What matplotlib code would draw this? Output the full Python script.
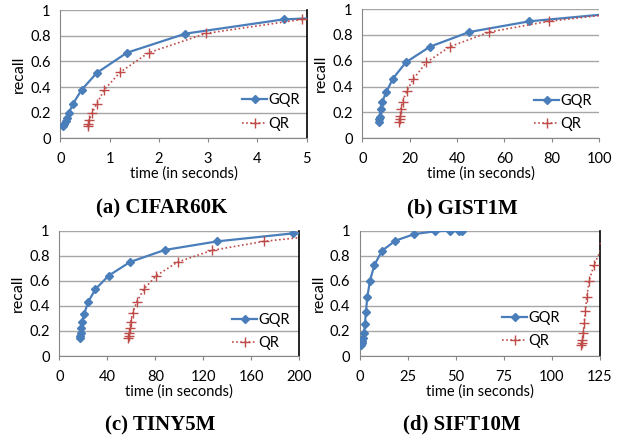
import matplotlib
matplotlib.use("Agg")
import matplotlib.pyplot as plt

# ---- data ----
a_gqr_t = [0.06, 0.08, 0.115, 0.135, 0.17, 0.26, 0.43, 0.74, 1.35, 2.54, 4.53, 5.6]
a_gqr_r = [0.096, 0.11, 0.135, 0.156, 0.195, 0.27, 0.377, 0.51, 0.667, 0.816, 0.927, 0.945]
a_qr_t = [0.555, 0.57, 0.59, 0.64, 0.74, 0.89, 1.21, 1.79, 2.96, 4.9, 6.0]
a_qr_r = [0.096, 0.11, 0.143, 0.195, 0.27, 0.377, 0.514, 0.667, 0.818, 0.927, 0.945]

b_gqr_t = [7.0, 7.2, 7.3, 7.7, 8.3, 10.1, 12.9, 18.4, 28.6, 45.1, 70.5, 110]
b_gqr_r = [0.129, 0.147, 0.168, 0.224, 0.278, 0.356, 0.461, 0.588, 0.709, 0.822, 0.905, 0.972]
b_qr_t = [15.6, 15.8, 16.0, 16.3, 17.0, 18.8, 21.5, 27.1, 37.0, 53.6, 78.6, 110]
b_qr_r = [0.129, 0.15, 0.175, 0.224, 0.283, 0.366, 0.459, 0.588, 0.709, 0.822, 0.905, 0.97]

c_gqr_t = [17.2, 17.5, 17.8, 18.1, 18.9, 20.6, 24.2, 30.0, 41.1, 58.9, 87.8, 131.7, 195.0, 230]
c_gqr_r = [0.141, 0.16, 0.186, 0.22, 0.274, 0.335, 0.434, 0.532, 0.641, 0.75, 0.846, 0.915, 0.979, 0.99]
c_qr_t = [57.5, 57.8, 58.3, 58.9, 59.4, 61.1, 64.4, 70.6, 80.8, 98.6, 127.2, 170.6, 220]
c_qr_r = [0.141, 0.16, 0.186, 0.22, 0.274, 0.34, 0.43, 0.535, 0.641, 0.75, 0.843, 0.915, 0.965]

d_gqr_t = [0.5, 0.9, 1.2, 1.6, 2.1, 2.6, 3.1, 3.8, 5.2, 7.5, 11.5, 18.4, 28.3, 39.1, 47.0, 51.6, 53.1]
d_gqr_r = [0.088, 0.1, 0.12, 0.146, 0.186, 0.255, 0.354, 0.468, 0.601, 0.726, 0.84, 0.92, 0.973, 0.995, 1.0, 1.0, 1.0]
d_qr_t = [114.9, 115.5, 115.9, 116.3, 116.8, 117.4, 118.1, 119.4, 121.9, 127]
d_qr_r = [0.088, 0.1, 0.13, 0.186, 0.26, 0.359, 0.468, 0.601, 0.726, 0.9]

panels = [
    dict(gt=a_gqr_t, gr=a_gqr_r, qt=a_qr_t, qr=a_qr_r, xlim=(0, 5), xticks=[0, 1, 2, 3, 4, 5],
         pos=[0.0976, 0.6842, 0.3987, 0.2929], caption="(a) CIFAR60K", cap=(162, 208),
         rspine=True, leg=(0.997, 0.205)),
    dict(gt=b_gqr_t, gr=b_gqr_r, qt=b_qr_t, qr=b_qr_r, xlim=(0, 100), xticks=[0, 20, 40, 60, 80, 100],
         pos=[0.5862, 0.6842, 0.3835, 0.2952], caption="(b) GIST1M", cap=(462, 208),
         rspine=False, leg=(0.994, 0.20)),
    dict(gt=c_gqr_t, gr=c_gqr_r, qt=c_qr_t, qr=c_qr_r, xlim=(0, 200), xticks=[0, 40, 80, 120, 160, 200],
         pos=[0.0960, 0.1872, 0.3883, 0.2861], caption="(c) TINY5M", cap=(160, 425),
         rspine=True, leg=(0.986, 0.196)),
    dict(gt=d_gqr_t, gr=d_gqr_r, qt=d_qr_t, qr=d_qr_r, xlim=(0, 125), xticks=[0, 25, 50, 75, 100, 125],
         pos=[0.5825, 0.1872, 0.3883, 0.2861], caption="(d) SIFT10M", cap=(462, 424),
         rspine=True, leg=(0.858, 0.21)),
]

blue = "#4A7EBB"
red = "#BE4B48"
tickfont = "Lato"
fs = 10.5

fig = plt.figure(figsize=(6.18, 4.38), dpi=100)
W, H = 618, 438

for p in panels:
    ax = fig.add_axes(p["pos"])
    ax.plot(p["gt"], p["gr"], color=blue, lw=1.6, marker="D", ms=4.5, label="GQR",
            clip_on=True, zorder=3)
    ax.plot(p["qt"], p["qr"], color=red, lw=1.2, ls=(0, (1, 1.5)), marker="+", ms=6.5,
            mew=1.0, label="QR", clip_on=True, zorder=3)
    ax.set_xlim(*p["xlim"])
    ax.set_ylim(0, 1)
    ax.set_xticks(p["xticks"])
    ax.set_yticks([0, 0.2, 0.4, 0.6, 0.8, 1.0])
    ax.set_yticklabels(["0", "0.2", "0.4", "0.6", "0.8", "1"])
    ax.grid(axis="y", color="#A6A6A6", lw=1.0)
    ax.set_axisbelow(True)
    ax.spines["top"].set_visible(False)
    ax.spines["left"].set_color("#868686")
    ax.spines["bottom"].set_color("#868686")
    if p["rspine"]:
        ax.spines["right"].set_color("black")
        ax.spines["right"].set_linewidth(1.2)
    else:
        ax.spines["right"].set_visible(False)
    ax.tick_params(axis="y", length=0, labelsize=fs, pad=7)
    ax.tick_params(axis="x", length=3, direction="out", color="#868686", labelsize=fs, pad=7)
    for lab in ax.get_xticklabels() + ax.get_yticklabels():
        lab.set_fontfamily(tickfont)
    ax.set_xlabel("time (in seconds)", fontsize=fs, family=tickfont, labelpad=0)
    ax.set_ylabel("recall", fontsize=fs + 1, family=tickfont, labelpad=3)
    ax.legend(loc="center right", bbox_to_anchor=p["leg"], frameon=False,
              prop={"family": tickfont, "size": fs}, handlelength=1.7,
              handletextpad=0.1, labelspacing=0.65, borderaxespad=0)
    fig.text(p["cap"][0] / W, 1 - p["cap"][1] / H, p["caption"], ha="center", va="center",
             fontsize=15, fontweight="bold", family="Liberation Serif")

fig.savefig("out.png", dpi=100)
